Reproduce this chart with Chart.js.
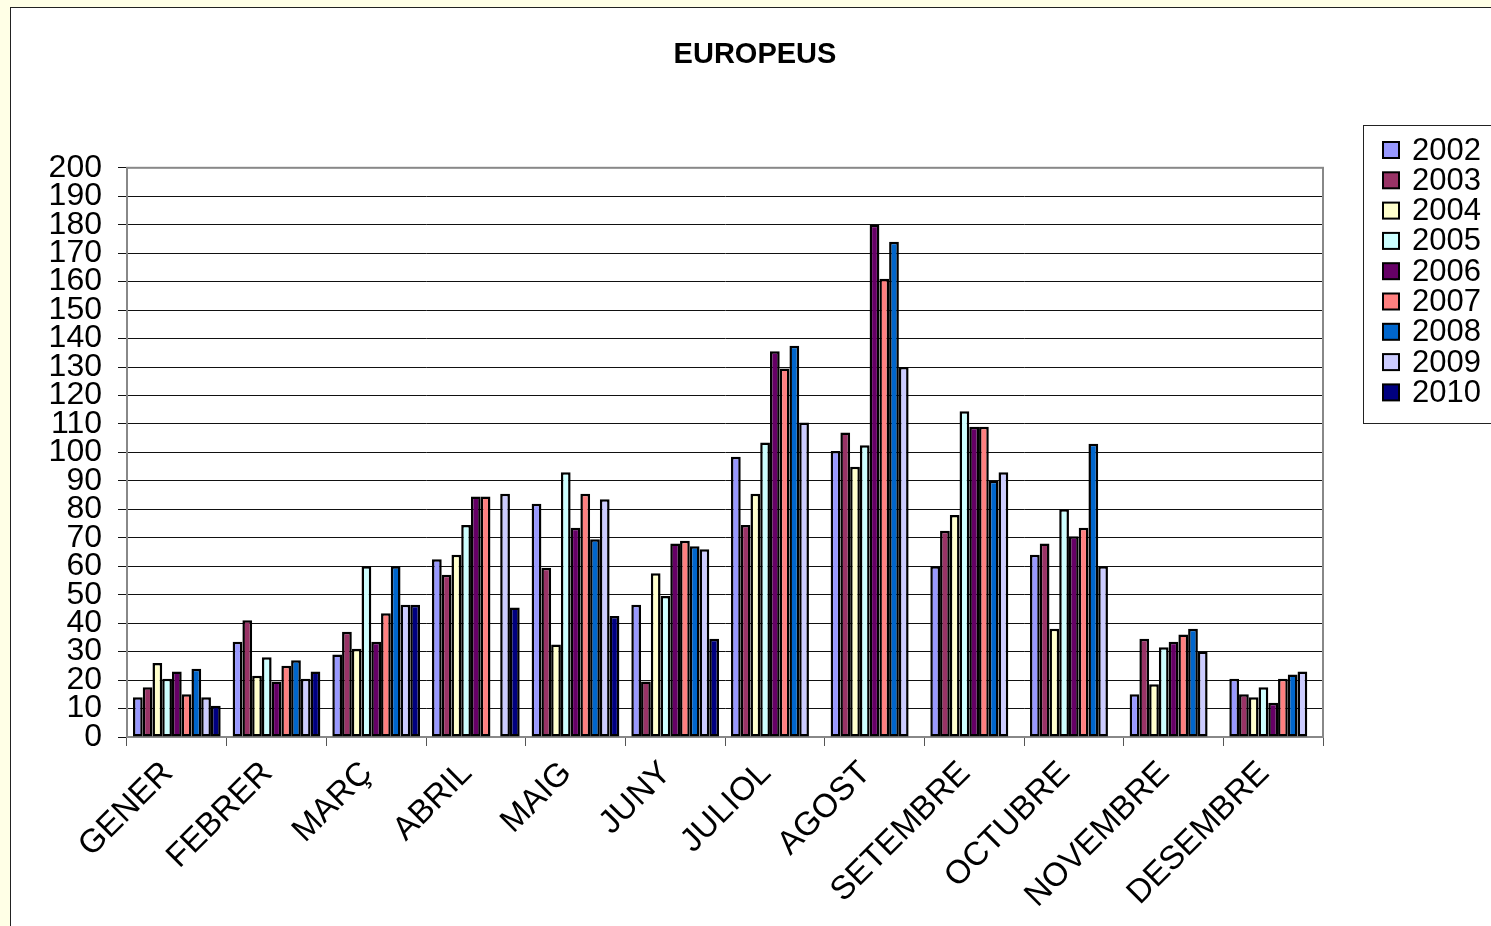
<!DOCTYPE html>
<html>

<head>
    <style>
        html, body {
            margin: 0;
            padding: 0;
            overflow: hidden;
            background: #ffffe6;
        }
        #frame {
            position: absolute;
            left: 10px;
            top: 7px;
            width: 1520px;
            height: 940px;
            background: #ffffff;
            border: 1px solid #222;
        }
        #canvas {
            position: absolute;
            left: 0;
            top: 0;
        }
    </style>
    <title>EUROPEUS</title>
</head>

<body>
    <div id="frame"></div>
    <canvas id="canvas" width="1510" height="926"></canvas>
    <script src="https://cdn.jsdelivr.net/npm/chart.js@4/dist/chart.umd.min.js"></script>
    <script type="text/javascript">
        var months = ['GENER', 'FEBRER', 'MARÇ', 'ABRIL', 'MAIG', 'JUNY', 'JULIOL', 'AGOST', 'SETEMBRE', 'OCTUBRE', 'NOVEMBRE', 'DESEMBRE'];
        var years = ['2002', '2003', '2004', '2005', '2006', '2007', '2008', '2009', '2010'];
        var yearColors = ['#9999ff', '#993366', '#ffffcc', '#ccffff', '#660066', '#ff8080', '#0066cc', '#ccccff', '#000080'];

        var v2002 = [14, 33.5, 29, 62.5, 82, 46.5, 98.5, 100.5, 60, 64, 15, 20.5];
        var v2003 = [17.5, 41, 37, 57, 59.5, 19.5, 74.5, 107, 72.5, 68, 34.5, 15];
        var v2004 = [26, 21.5, 31, 64, 32.5, 57.5, 85.5, 95, 78, 38, 18.5, 14];
        var v2005 = [20.5, 28, 60, 74.5, 93, 49.5, 103.5, 102.5, 114.5, 80, 31.5, 17.5];
        var v2006 = [23, 19.5, 33.5, 84.5, 73.5, 68, 135.5, 180, 109, 70.5, 33.5, 12];
        var v2007 = [15, 25, 43.5, 84.5, 85.5, 69, 129.5, 161, 109, 73.5, 36, 20.5];
        var v2008 = [24, 27, 60, null, 69.5, 67, 137.5, 174, 90, 103, 38, 22];
        var v2009 = [14, 20.5, 46.5, 85.5, 83.5, 66, 110.5, 130, 93, 60, 30, 23];
        var v2010 = [11, 23, 46.5, 45.5, 42.5, 34.5, null, null, null, null, null, null];
        var yearValues = [v2002, v2003, v2004, v2005, v2006, v2007, v2008, v2009, v2010];

        var font = "'Liberation Sans', Arial, sans-serif";

        // plot border + legend box on the right, drawn by hand like the Excel one
        var boxLegend = {
            id: 'boxLegend',
            beforeDatasetsDraw: function(chart) {
                var a = chart.chartArea;
                var c = chart.ctx;
                c.save();
                c.strokeStyle = '#888';
                c.lineWidth = 2;
                c.strokeRect(a.left, a.top, a.right - a.left, a.bottom - a.top);
                c.restore();
            },
            afterDraw: function(chart) {
                var c = chart.ctx;
                c.save();
                c.strokeStyle = '#222';
                c.lineWidth = 1;
                c.strokeRect(1363.5, 125.5, 200, 298);
                c.font = '31px ' + font;
                c.textBaseline = 'middle';
                c.textAlign = 'left';
                chart.data.datasets.forEach(function(ds, i) {
                    var y = 150 + i * 30.3;
                    c.fillStyle = ds.backgroundColor;
                    c.fillRect(1383, y - 8, 16, 16);
                    c.strokeStyle = '#000';
                    c.lineWidth = 2;
                    c.strokeRect(1383, y - 8, 16, 16);
                    c.fillStyle = '#000';
                    c.fillText(ds.label, 1412, y + 1);
                });
                c.restore();
            }
        };

        window.onload = function() {
            Chart.defaults.color = '#000';
            Chart.defaults.font.family = font;

            var datasets = years.map(function(y, i) {
                return {
                    label: y,
                    data: yearValues[i],
                    backgroundColor: yearColors[i],
                    borderColor: '#000',
                    borderWidth: 2.5,
                    borderSkipped: false
                };
            });

            var ctx = document.getElementById('canvas').getContext('2d');
            window.myBarChart = new Chart(ctx, {
                type: 'bar',
                data: {
                    labels: months,
                    datasets: datasets
                },
                options: {
                    responsive: false,
                    animation: false,
                    devicePixelRatio: 1,
                    layout: {
                        padding: 0
                    },
                    datasets: {
                        bar: {
                            categoryPercentage: 0.88,
                            barPercentage: 1.0
                        }
                    },
                    plugins: {
                        legend: {
                            display: false
                        },
                        tooltip: {
                            enabled: false
                        },
                        title: {
                            display: true,
                            text: 'EUROPEUS',
                            font: {
                                size: 29,
                                weight: 'bold'
                            },
                            padding: {
                                top: 38,
                                bottom: 95
                            }
                        }
                    },
                    scales: {
                        x: {
                            grid: {
                                drawOnChartArea: false,
                                tickLength: 9,
                                color: '#555',
                                offset: true
                            },
                            border: {
                                color: '#808080',
                                width: 2
                            },
                            ticks: {
                                minRotation: 45,
                                maxRotation: 45,
                                autoSkip: false,
                                padding: 8,
                                labelOffset: -9,
                                font: {
                                    size: 33
                                }
                            },
                            afterFit: function(scale) {
                                scale.height = 189;
                            }
                        },
                        y: {
                            min: 0,
                            max: 200,
                            grid: {
                                color: '#111',
                                lineWidth: 1,
                                tickLength: 9
                            },
                            border: {
                                color: '#808080',
                                width: 2
                            },
                            ticks: {
                                stepSize: 10,
                                autoSkip: false,
                                padding: 16,
                                font: {
                                    size: 32,
                                    lineHeight: 1
                                }
                            },
                            afterFit: function(scale) {
                                scale.width = 127;
                            }
                        },
                        yRight: {
                            position: 'right',
                            display: true,
                            grid: {
                                display: false
                            },
                            border: {
                                display: false
                            },
                            ticks: {
                                display: false
                            },
                            afterFit: function(scale) {
                                scale.width = 187;
                            }
                        }
                    }
                },
                plugins: [boxLegend]
            });
        };
    </script>
</body>

</html>
